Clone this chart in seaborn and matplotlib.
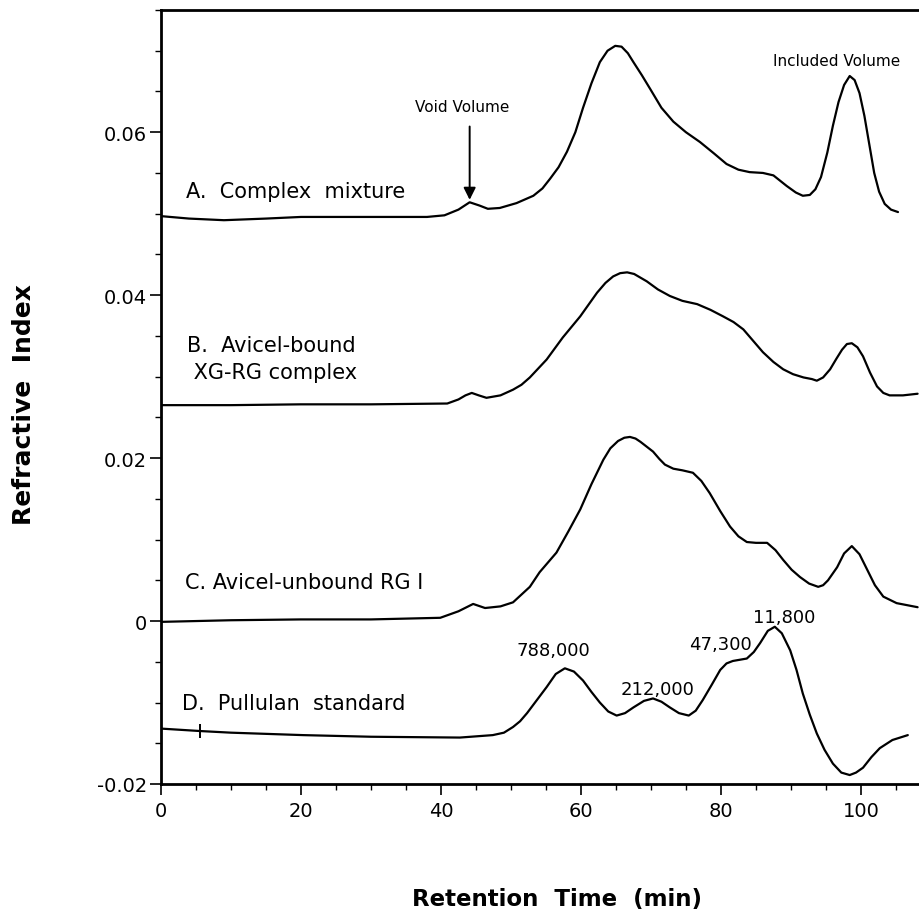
import numpy as np
import pandas as pd
import matplotlib
matplotlib.use("Agg")
import matplotlib.pyplot as plt
import seaborn as sns

# ---------------- data ----------------
a_x = [0, 4, 9, 15, 20, 30, 38, 40.5, 42.5, 44.1, 45.5, 46.7, 48.4, 50.8, 53.2, 54.5, 55.6,
       56.8, 58, 59.2, 60.3, 61.5, 62.7, 63.8, 64.9, 65.8, 66.7, 67.5, 68.7, 69.9, 71.5,
       73.2, 75, 77, 79, 80.8, 82.5, 84.1, 86, 87.5, 89.4, 90.7, 91.7, 92.7, 93.5, 94.3,
       95.2, 96, 96.8, 97.6, 98.4, 99.1, 99.8, 100.5, 101.2, 101.9, 102.6, 103.4, 104.3,
       105.3]
a_y = [0.0497, 0.0494, 0.0492, 0.0494, 0.0496, 0.0496, 0.0496, 0.0498, 0.0505, 0.0514,
       0.0510, 0.0506, 0.0507, 0.0513, 0.0522, 0.0531, 0.0543, 0.0557, 0.0576, 0.0600,
       0.0630, 0.0660, 0.0686, 0.0700, 0.0706, 0.0705, 0.0697, 0.0686, 0.0670, 0.0653,
       0.0630, 0.0613, 0.0600, 0.0588, 0.0574, 0.0561, 0.0554, 0.0551, 0.0550, 0.0547,
       0.0534, 0.0526, 0.0522, 0.0523, 0.0530, 0.0545, 0.0575, 0.0608, 0.0637, 0.0658,
       0.0669, 0.0664, 0.0648, 0.0620, 0.0585, 0.0550, 0.0527, 0.0512, 0.0505, 0.0502]

b_x = [0, 10, 20, 30, 40.9, 42.5, 43.5, 44.4, 45.4, 46.5, 48.5, 50.3, 51.5, 52.7, 55.1,
       57.4, 59.9, 62.3, 63.5, 64.6, 65.6, 66.6, 67.6, 68.6, 69.4, 71, 72.7, 74.5, 76.6,
       78.5, 80.3, 81.8, 83.2, 84.6, 86, 87.5, 88.9, 90.3, 91.8, 93, 93.7, 94.6, 95.6,
       96.5, 97.3, 98, 98.7, 99.5, 100.3, 101.3, 102.3, 103.2, 104.1, 106, 108.1]
b_y = [0.0265, 0.0265, 0.0266, 0.0266, 0.0267, 0.0272, 0.0277, 0.0280, 0.0277, 0.0274,
       0.0277, 0.0284, 0.0290, 0.0299, 0.0321, 0.0348, 0.0374, 0.0403, 0.0415, 0.0423,
       0.0427, 0.0428, 0.0426, 0.0421, 0.0417, 0.0407, 0.0399, 0.0393, 0.0389, 0.0382,
       0.0374, 0.0367, 0.0358, 0.0344, 0.0330, 0.0318, 0.0309, 0.0303, 0.0299, 0.0297,
       0.0295, 0.0299, 0.0309, 0.0322, 0.0333, 0.0340, 0.0341, 0.0336, 0.0325, 0.0305,
       0.0288, 0.0280, 0.0277, 0.0277, 0.0279]

c_x = [0, 10, 20, 30, 39.9, 42.5, 44.6, 46.3, 48.5, 50.3, 52.7, 54.1, 56.5, 58.2, 59.9,
       61.5, 63.2, 64.2, 65.3, 66.2, 67, 67.8, 68.5, 69.4, 70.3, 71.2, 72, 73.2, 74.5, 76,
       77.2, 78.4, 79.9, 81.3, 82.5, 83.7, 85, 86.6, 87.8, 88.9, 90.1, 91.3, 92.6, 93.9,
       94.6, 95.3, 96.6, 97.6, 98.7, 99.8, 100.9, 102, 103.2, 105.1, 108.1]
c_y = [-0.0001, 0.0001, 0.0002, 0.0002, 0.0004, 0.0012, 0.0021, 0.0016, 0.0018, 0.0023,
       0.0042, 0.0060, 0.0084, 0.0110, 0.0137, 0.0168, 0.0198, 0.0212, 0.0221, 0.0225,
       0.0226, 0.0224, 0.0220, 0.0214, 0.0208, 0.0199, 0.0192, 0.0187, 0.0185, 0.0182,
       0.0172, 0.0157, 0.0135, 0.0116, 0.0104, 0.0097, 0.0096, 0.0096, 0.0087, 0.0075,
       0.0063, 0.0054, 0.0046, 0.0042, 0.0044, 0.0050, 0.0066, 0.0083, 0.0092, 0.0082,
       0.0063, 0.0044, 0.0030, 0.0022, 0.0017]

d_x = [0, 5.6, 10, 20.3, 30, 42.7, 47.4, 49, 50.3, 51.3, 52.3, 53.7, 55.1, 56.4, 57.7, 59,
       60.3, 61.5, 62.7, 63.9, 65.1, 66.3, 67.5, 69, 70.3, 71.5, 72.7, 74, 75.4, 76.4,
       77.4, 78.7, 79.9, 80.8, 81.7, 83.7, 84.7, 85.6, 86.7, 87.7, 88.7, 89.9, 90.8, 91.7,
       92.7, 93.7, 94.8, 96, 97.2, 98.4, 99.3, 100.3, 101.5, 102.7, 104.5, 106.7]
d_y = [-0.0132, -0.0135, -0.0137, -0.0140, -0.0142, -0.0143, -0.0140, -0.0137, -0.0130,
       -0.0123, -0.0113, -0.0097, -0.0081, -0.0065, -0.0058, -0.0062, -0.0073, -0.0087,
       -0.0100, -0.0111, -0.0116, -0.0113, -0.0106, -0.0098, -0.0095, -0.0099, -0.0106,
       -0.0113, -0.0116, -0.0110, -0.0097, -0.0078, -0.0060, -0.0052, -0.0049, -0.0046,
       -0.0038, -0.0027, -0.0012, -0.0007, -0.0015, -0.0036, -0.0060, -0.0089, -0.0115,
       -0.0138, -0.0158, -0.0175, -0.0186, -0.0189, -0.0186, -0.0180, -0.0167, -0.0156,
       -0.0146, -0.0140]

inject_x = [5.6]
inject_y = [-0.0135]

series_names = ["A", "B", "C", "D"]

curve_labels = ["A.  Complex  mixture", "B.  Avicel-bound\n XG-RG complex",
                "C. Avicel-unbound RG I", "D.  Pullulan  standard"]
curve_label_x = [3.6, 3.7, 3.4, 3.0]
curve_label_y = [0.0528, 0.0322, 0.0048, -0.0100]

pullulan_labels = ["788,000", "212,000", "47,300", "11,800"]
pullulan_x = [56.0, 70.9, 80.0, 89.1]
pullulan_y = [-0.0036, -0.0084, -0.0028, 0.0005]

x_ticks = [0, 20, 40, 60, 80, 100]
x_tick_labels = ["0", "20", "40", "60", "80", "100"]
y_ticks = [-0.02, 0.0, 0.02, 0.04, 0.06]
y_tick_labels = ["-0.02", "0", "0.02", "0.04", "0.06"]

# ---------------- build table ----------------
frames = []
for name, xs, ys in zip(series_names, [a_x, b_x, c_x, d_x], [a_y, b_y, c_y, d_y]):
    frames.append(pd.DataFrame({"time": xs, "ri": ys, "series": name}))
df = pd.concat(frames, ignore_index=True)

# ---------------- plot ----------------
sns.set_style("ticks")
plt.rcParams["font.family"] = ["DejaVu Sans"]
plt.rcParams["axes.unicode_minus"] = False
plt.rcParams["text.color"] = "black"
plt.rcParams["axes.labelcolor"] = "black"

fig = plt.figure(figsize=(9.19, 9.2), dpi=100)
ax = fig.add_axes([161 / 919, 135 / 920, 758 / 919, 774 / 920])

sns.lineplot(data=df, x="time", y="ri", units="series", estimator=None, sort=False,
             color="black", linewidth=1.6, ax=ax, legend=False)
sns.scatterplot(x=inject_x, y=inject_y, marker="|", s=90, color="black",
                linewidth=1.4, ax=ax, legend=False)

ax.set_xlim(0, 108.3)
ax.set_ylim(-0.02, 0.075)
ax.set_xticks(x_ticks)
ax.set_xticklabels(x_tick_labels)
ax.set_yticks(y_ticks)
ax.set_yticklabels(y_tick_labels)
ax.set_xticks(np.arange(0, 108.3, 5), minor=True)
ax.set_yticks(np.arange(-0.02, 0.0751, 0.005), minor=True)
ax.tick_params(axis="both", which="major", direction="out", length=8, width=1.2,
               labelsize=14, colors="black")
ax.tick_params(axis="both", which="minor", direction="out", length=4, width=1.0,
               colors="black")
ax.tick_params(axis="y", which="major", pad=2)
ax.tick_params(axis="x", which="major", pad=4)

for s in ["left", "bottom", "top"]:
    ax.spines[s].set_linewidth(2.0)
    ax.spines[s].set_color("black")
ax.spines["right"].set_visible(False)

ax.set_xlabel("")
ax.set_ylabel("")
fig.text(557 / 919, 1 - 900 / 920, "Retention  Time  (min)", ha="center", va="center",
         fontsize=16.5, fontweight="bold", color="black")
fig.text(24 / 919, 1 - 405 / 920, "Refractive  Index", ha="center", va="center",
         rotation=90, fontsize=18, fontweight="bold", color="black")

for txt, x, y in zip(curve_labels, curve_label_x, curve_label_y):
    ax.text(x, y, txt, ha="left", va="center", fontsize=15, linespacing=1.45,
            color="black")

for txt, x, y in zip(pullulan_labels, pullulan_x, pullulan_y):
    ax.text(x, y, txt, ha="center", va="center", fontsize=13, color="black")

ax.text(43.0, 0.0632, "Void Volume", ha="center", va="center", fontsize=11, color="black")
ax.annotate("", xy=(44.1, 0.0517), xytext=(44.1, 0.0607),
            arrowprops=dict(arrowstyle="-|>", color="black", lw=1.4,
                            mutation_scale=18, shrinkA=0, shrinkB=0))
ax.text(96.6, 0.0688, "Included Volume", ha="center", va="center", fontsize=11,
        color="black")

fig.savefig("out.png", dpi=100)
